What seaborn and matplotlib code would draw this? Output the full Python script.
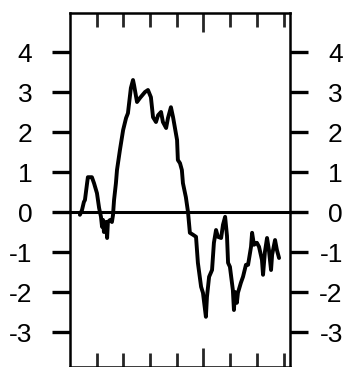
import matplotlib
matplotlib.use("Agg")
import matplotlib.pyplot as plt
import seaborn as sns
import pandas as pd

# time position (in tick units) and value
t = [0.37, 0.45, 0.52, 0.56, 0.64, 0.67, 0.82, 0.90, 1.01, 1.09,
     1.16, 1.20, 1.24, 1.27, 1.35, 1.39, 1.42, 1.50, 1.57, 1.61,
     1.65, 1.72, 1.76, 1.87, 1.99, 2.10, 2.17, 2.28, 2.36, 2.40,
     2.51, 2.62, 2.81, 2.92, 3.03, 3.11, 3.22, 3.30, 3.41, 3.48,
     3.60, 3.67, 3.78, 3.86, 4.01, 4.04, 4.12, 4.19, 4.23, 4.34,
     4.42, 4.49, 4.61, 4.72, 4.79, 4.91, 4.98, 5.09, 5.13, 5.21,
     5.32, 5.39, 5.47, 5.54, 5.66, 5.73, 5.81, 5.88, 5.92, 5.99,
     6.10, 6.14, 6.18, 6.25, 6.29, 6.40, 6.48, 6.59, 6.67, 6.78,
     6.82, 6.89, 7.00, 7.08, 7.19, 7.23, 7.30, 7.38, 7.45, 7.53,
     7.57, 7.68, 7.75, 7.83]
value = [-0.07, 0.05, 0.25, 0.30, 0.72, 0.87, 0.87, 0.72, 0.47, 0.10,
         -0.12, -0.37, -0.20, -0.50, -0.25, -0.65, -0.25, -0.20, -0.25, -0.08,
         0.30, 0.72, 1.05, 1.55, 2.05, 2.35, 2.47, 3.10, 3.30, 3.17,
         2.75, 2.85, 3.00, 3.05, 2.87, 2.37, 2.25, 2.42, 2.50, 2.25,
         2.10, 2.35, 2.62, 2.37, 1.80, 1.30, 1.22, 1.05, 0.72, 0.37,
         0.00, -0.52, -0.57, -0.62, -1.27, -1.87, -2.02, -2.62, -2.12, -1.62,
         -1.45, -0.77, -0.45, -0.62, -0.65, -0.32, -0.12, -0.60, -1.27, -1.37,
         -1.95, -2.45, -2.00, -2.27, -2.02, -1.77, -1.62, -1.32, -1.32, -0.87,
         -0.52, -0.82, -0.77, -0.87, -1.20, -1.57, -1.00, -0.65, -0.95, -1.45,
         -1.07, -0.70, -0.95, -1.15]

y_ticks = [-3, -2, -1, 0, 1, 2, 3, 4]
x_major = [5]
x_minor = [1, 2, 3, 4, 6, 7, 8]

sns.set_style("white")
plt.rcParams['font.family'] = ['Liberation Sans', 'DejaVu Sans']

df = pd.DataFrame({"t": t, "value": value})

fig = plt.figure(figsize=(3.48, 3.67), dpi=100)
ax = fig.add_axes([70 / 348, 0.0, 220 / 348, 1 - 13 / 367])

sns.lineplot(data=df, x="t", y="value", ax=ax, color="black", lw=2.8,
             sort=False, solid_joinstyle="round")
ax.axhline(0, color="black", lw=2.2)

ax.set_xlim(0, 8.24)
ax.set_ylim(-3.875, 4.975)
ax.set_xlabel("")
ax.set_ylabel("")

for s in ax.spines.values():
    s.set_visible(True)
    s.set_color("black")
    s.set_linewidth(1.8)

ax.set_yticks(y_ticks)
ax.set_yticklabels([str(v) for v in y_ticks])
ax.tick_params(axis="y", which="major", direction="out", length=13, width=2.4,
               left=True, right=False, labelleft=True, labelright=False,
               labelsize=19, pad=14, colors="black")

# right side: same ticks, labels right-aligned like the left ones
ax2 = ax.twinx()
ax2.set_ylim(ax.get_ylim())
ax2.set_yticks(y_ticks)
ax2.set_yticklabels([str(v) for v in y_ticks], ha="right")
ax2.tick_params(axis="y", which="major", direction="out", length=13, width=2.4,
                right=True, labelright=True, labelsize=19, pad=25,
                colors="black")
ax2.grid(False)
for s in ax2.spines.values():
    s.set_visible(False)

ax.set_xticks(x_major)
ax.set_xticks(x_minor, minor=True)
ax.tick_params(axis="x", which="major", direction="in", length=14, width=2,
               top=True, bottom=True, labelbottom=False)
ax.tick_params(axis="x", which="minor", direction="in", length=10, width=2,
               top=True, bottom=True)

fig.savefig("out.png", dpi=100, facecolor="white")
